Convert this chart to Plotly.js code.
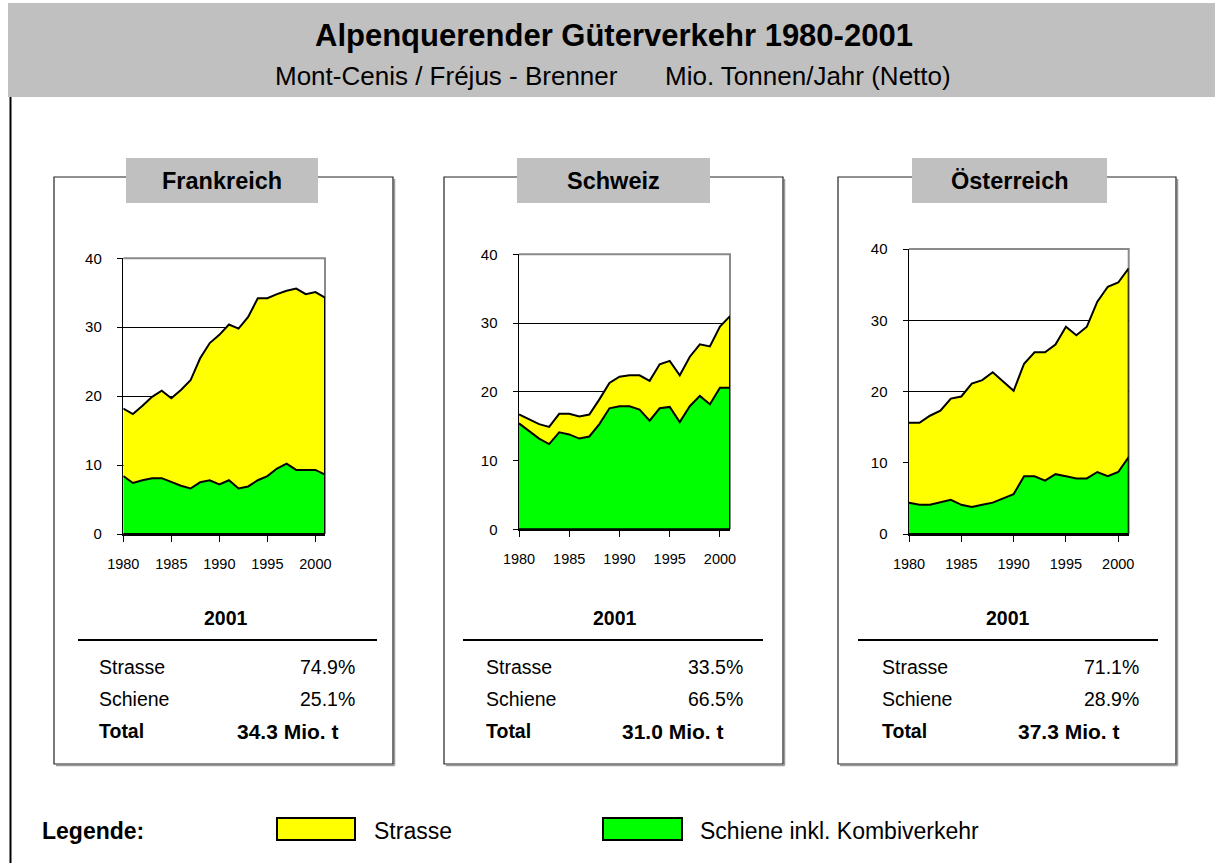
<!DOCTYPE html>
<html><head><meta charset="utf-8">
<script src="https://cdn.plot.ly/plotly-3.0.1.min.js"></script>
<style>html,body{margin:0;padding:0;background:#fff}#chart{width:1215px;height:863px}</style>
</head><body><div id="chart"></div>
<script>
// ---------------- data ----------------
const years = [1980,1981,1982,1983,1984,1985,1986,1987,1988,1989,1990,1991,1992,1993,1994,1995,1996,1997,1998,1999,2000,2001];
const countries = ["Frankreich", "Schweiz", "Österreich"];
// Mio. Tonnen/Jahr (Netto)
const schieneFR = [8.4,7.4,7.8,8.1,8.1,7.5,7.0,6.6,7.5,7.8,7.2,7.8,6.6,6.9,7.8,8.4,9.5,10.2,9.3,9.3,9.3,8.6];
const strasseFR = [9.8,10.0,10.8,11.8,12.7,12.2,13.9,15.7,18.0,19.9,21.7,22.6,23.2,24.6,26.4,25.8,25.3,25.1,26.3,25.5,25.8,25.7];
const schieneCH = [15.4,14.3,13.2,12.4,14.1,13.8,13.2,13.5,15.3,17.6,17.9,17.9,17.4,15.8,17.6,17.8,15.6,17.9,19.4,18.2,20.6,20.6];
const strasseCH = [1.3,1.7,2.1,2.5,2.7,3.0,3.2,3.2,3.6,3.7,4.3,4.5,5.0,5.8,6.4,6.7,6.8,7.2,7.5,8.4,8.9,10.4];
const schieneAT = [4.4,4.1,4.1,4.4,4.8,4.1,3.8,4.1,4.4,5.0,5.6,8.1,8.1,7.5,8.4,8.1,7.8,7.8,8.7,8.1,8.7,10.8];
const strasseAT = [11.2,11.5,12.5,12.9,14.2,15.2,17.3,17.5,18.3,16.4,14.5,15.8,17.4,18.0,18.2,21.0,20.1,21.3,23.9,26.6,26.6,26.5];
const summaryYear = "2001";
const shareStrasse = ["74.9%", "33.5%", "71.1%"];
const shareSchiene = ["25.1%", "66.5%", "28.9%"];
const total2001 = ["34.3 Mio. t", "31.0 Mio. t", "37.3 Mio. t"];
const rowLabels = ["Strasse", "Schiene", "Total"];
const yTicks = [0, 10, 20, 30, 40];
const xTicks = [1980, 1985, 1990, 1995, 2000];
const titleText = "Alpenquerender Güterverkehr 1980-2001";
const subtitleLeft = "Mont-Cenis / Fréjus - Brenner";
const subtitleRight = "Mio. Tonnen/Jahr (Netto)";
const legendTitle = "Legende:";
const legendLabels = ["Strasse", "Schiene inkl. Kombiverkehr"];

// ---------------- layout helpers ----------------
const W = 1215, H = 863;
const X = p => p / W;
const Y = p => 1 - p / H;
const FONT = "Liberation Sans, Arial, sans-serif";
const YELLOW = "#ffff00", GREEN = "#00ff00";

const series = [[schieneFR, strasseFR], [schieneCH, strasseCH], [schieneAT, strasseAT]];
const plotX = [[123.3, 325], [519, 730], [909, 1128.7]];
const plotY = [[258.3, 534], [254.3, 529.3], [249, 534]];
const panelL = [54, 444, 838], panelR = [393, 783, 1176];
const panelT = 177, panelB = 764;
const headL = [126, 517, 912], headR = [318, 710, 1107];
const yearC = [226, 615, 1008];
const lineL = [78, 463, 858], lineR = [377, 763, 1158];
const labL = [97, 484, 880];
const pctR = [357, 745, 1141];
const totR = [341, 726, 1122];
const rowY = [667, 699, 731];

const traces = [];
const layout = {
  width: W, height: H,
  margin: {l: 0, r: 0, t: 0, b: 0},
  paper_bgcolor: "#ffffff", plot_bgcolor: "rgba(0,0,0,0)",
  showlegend: false,
  font: {family: FONT, color: "#000"},
  shapes: [], annotations: []
};

function ann(text, x, y, size, bold, xanchor) {
  layout.annotations.push({
    text: bold ? "<b>" + text + "</b>" : text,
    xref: "paper", yref: "paper", x: X(x), y: Y(y),
    xanchor: xanchor || "center", yanchor: "middle",
    showarrow: false, font: {family: FONT, size: size, color: "#000"}
  });
}
function rect(x0, y0, x1, y1, fill, lineColor, lw, layer) {
  layout.shapes.push({
    type: "rect", xref: "paper", yref: "paper",
    x0: X(x0), x1: X(x1), y0: Y(y0), y1: Y(y1),
    fillcolor: fill, line: {color: lineColor, width: lw}, layer: layer || "above"
  });
}
function seg(x0, y0, x1, y1, color, lw, layer) {
  layout.shapes.push({
    type: "line", xref: "paper", yref: "paper",
    x0: X(x0), x1: X(x1), y0: Y(y0), y1: Y(y1),
    line: {color: color, width: lw}, layer: layer || "above"
  });
}

// header band
rect(8, 3, W, 97, "#c0c0c0", "rgba(0,0,0,0)", 0, "below");
seg(10.5, 97, 10.5, H, "#000", 2, "below");
ann(titleText, 614, 36, 31, true, "center");
ann(subtitleLeft, 273, 76, 26, false, "left");
ann(subtitleRight, 663, 76, 26, false, "left");

countries.forEach((name, i) => {
  const n = i === 0 ? "" : String(i + 1);
  const xa = "xaxis" + n, ya = "yaxis" + n;
  const rail = series[i][0], road = series[i][1];
  const total = road.map((v, k) => Math.round((v + rail[k]) * 10) / 10);
  const last = years.length - 1;
  const px = years.concat([years[last], years[0]]);

  // panel frame with shadow
  seg(panelR[i] + 1.5, panelT + 2, panelR[i] + 1.5, panelB + 1.5, "#9a9a9a", 1.5, "below");
  seg(panelL[i] + 2, panelB + 1.5, panelR[i] + 1.5, panelB + 1.5, "#9a9a9a", 1.5, "below");
  rect(panelL[i], panelT, panelR[i], panelB, "rgba(0,0,0,0)", "#222", 1.2, "below");
  rect(headL[i], 158, headR[i], 203, "#c0c0c0", "rgba(0,0,0,0)", 0, "below");
  ann(name, (headL[i] + headR[i]) / 2, 181, 23.5, true, "center");

  // plot-area frame: gray right edge (under data) and gray top edge
  seg(plotX[i][1], plotY[i][0], plotX[i][1], plotY[i][1], "#8a8a8a", 2, "below");
  seg(plotX[i][0], plotY[i][0], plotX[i][1] + 1, plotY[i][0], "#8a8a8a", 2, "above");

  traces.push({
    type: "scatter", mode: "lines", x: px, y: total.concat([0, 0]),
    fill: "toself", fillcolor: YELLOW, line: {color: "#000", width: 2},
    xaxis: "x" + n, yaxis: "y" + n, hoverinfo: "skip", name: legendLabels[0]
  });
  traces.push({
    type: "scatter", mode: "lines", x: px, y: rail.concat([0, 0]),
    fill: "toself", fillcolor: GREEN, line: {color: "#000", width: 2},
    xaxis: "x" + n, yaxis: "y" + n, hoverinfo: "skip", name: legendLabels[1]
  });

  layout[xa] = {
    domain: [X(plotX[i][0]), X(plotX[i][1])], anchor: "y" + n,
    range: [years[0], years[last]], tickvals: xTicks,
    ticks: "outside", ticklen: 6, tickcolor: "#000", tickwidth: 1,
    showline: true, linecolor: "#000", linewidth: 1.5, showgrid: false, zeroline: false,
    tickfont: {family: FONT, size: 14.5, color: "#000"}, ticklabelstandoff: 10, fixedrange: true
  };
  layout[ya] = {
    domain: [Y(plotY[i][1]), Y(plotY[i][0])], anchor: "x" + n,
    range: [0, 40], tickvals: yTicks,
    ticks: "outside", ticklen: 5, tickcolor: "#000", tickwidth: 1,
    showline: true, linecolor: "#000", linewidth: 1.5,
    showgrid: true, gridcolor: "#000", gridwidth: 1, zeroline: false,
    tickfont: {family: FONT, size: 15, color: "#000"}, ticklabelstandoff: 12, fixedrange: true
  };

  // summary block
  ann(summaryYear, yearC[i], 618, 19.5, true, "center");
  seg(lineL[i], 640, lineR[i], 640, "#000", 2, "above");
  ann(rowLabels[0], labL[i], rowY[0], 19.5, false, "left");
  ann(rowLabels[1], labL[i], rowY[1], 19.5, false, "left");
  ann(rowLabels[2], labL[i], rowY[2], 19.5, true, "left");
  ann(shareStrasse[i], pctR[i], rowY[0], 19.5, false, "right");
  ann(shareSchiene[i], pctR[i], rowY[1], 19.5, false, "right");
  ann(total2001[i], totR[i], rowY[2], 21, true, "right");
});

// legend
ann(legendTitle, 40, 831, 23, true, "left");
rect(277, 818, 355, 840, YELLOW, "#000", 2, "above");
ann(legendLabels[0], 372, 831, 23, false, "left");
rect(603, 818, 682, 840, GREEN, "#000", 2, "above");
ann(legendLabels[1], 698, 831, 23, false, "left");

Plotly.newPlot("chart", traces, layout, {displayModeBar: false, staticPlot: true});
</script>
</body></html>
